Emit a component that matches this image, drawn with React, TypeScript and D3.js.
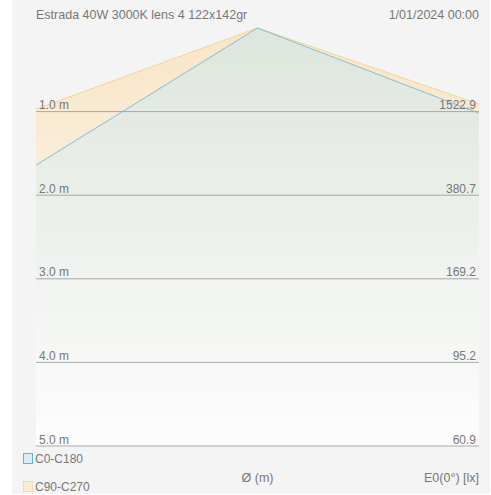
import React from 'react';
import * as d3 from 'd3';

const title = "Estrada 40W 3000K lens 4 122x142gr";
const dateLabel = "1/01/2024 00:00";
const depths = [1, 2, 3, 4, 5];
const depthLabels = ["1.0 m", "2.0 m", "3.0 m", "4.0 m", "5.0 m"];
const illuminance = ["1522.9", "380.7", "169.2", "95.2", "60.9"];
// beam edge: horizontal offset (m) vs depth below luminaire (m)
const c0Edge = [
  { x: -2.65, d: 1.64 },
  { x: 0, d: 0 },
  { x: 2.65, d: 1.02 },
];
const c90Edge = [
  { x: -2.65, d: 0.97 },
  { x: 0, d: 0 },
  { x: 2.65, d: 0.91 },
];
const seriesNames = ["C0-C180", "C90-C270"];

const W = 491, H = 495;
const font = "'Liberation Sans', Arial, sans-serif";

export default function App() {
  const x = d3.scaleLinear().domain([-2.65, 2.65]).range([36, 479]);
  const y = d3.scaleLinear().domain([0, 5]).range([28, 446]);

  const area = d3.area<{ x: number; d: number }>()
    .x(p => x(p.x))
    .y0(y(5))
    .y1(p => y(p.d));
  const line = d3.line<{ x: number; d: number }>()
    .x(p => x(p.x))
    .y(p => y(p.d));

  return (
    <div style={{ position: 'absolute', left: 0, top: 0 }}>
      <svg width={W} height={H} style={{ display: 'block', fontFamily: font }}>
        <defs>
          <linearGradient id="gOrange" gradientUnits="userSpaceOnUse" x1={0} y1={y(0)} x2={0} y2={y(5)}>
            <stop offset="0" stopColor="#fddcaa" />
            <stop offset="1" stopColor="#ffffff" />
          </linearGradient>
          <linearGradient id="gBlue" gradientUnits="userSpaceOnUse" x1={0} y1={y(0)} x2={0} y2={y(5)}>
            <stop offset="0" stopColor="#c2e5f1" />
            <stop offset="1" stopColor="#ffffff" />
          </linearGradient>
        </defs>
        <rect x={12} y={0} width={478} height={494} fill="#f4f4f4" />

        <path d={area(c90Edge) || ''} fill="url(#gOrange)" fillOpacity={0.6} />
        <path d={line(c90Edge) || ''} fill="none" stroke="#f5d595" strokeWidth={1} />
        <path d={area(c0Edge) || ''} fill="url(#gBlue)" fillOpacity={0.5} />
        <path d={line(c0Edge) || ''} fill="none" stroke="#7fc0d8" strokeWidth={1} />

        {depths.map((d, i) => (
          <g key={d}>
            <line x1={x(-2.65)} x2={x(2.65)} y1={y(d)} y2={y(d)} stroke="#a8a8a8" strokeWidth={1} />
            <text x={39} y={y(d) - 2.5} fontSize={12} fill="#777">{depthLabels[i]}</text>
            <text x={476} y={y(d) - 2.5} fontSize={12} fill="#777" textAnchor="end">{illuminance[i]}</text>
          </g>
        ))}

        <text x={36} y={19} fontSize={12.5} fill="#777">{title}</text>
        <text x={479} y={19} fontSize={12.5} fill="#777" textAnchor="end">{dateLabel}</text>

        <rect x={23.5} y={453.5} width={9} height={10} fill="#d8eef7" stroke="#5db5dc" strokeWidth={1} />
        <text x={35} y={463} fontSize={12} fill="#777">{seriesNames[0]}</text>
        <rect x={23.5} y={481.5} width={9} height={10} fill="#fbeccd" stroke="#f3cf8e" strokeWidth={1} strokeDasharray="2,1" />
        <text x={35} y={491} fontSize={12} fill="#777">{seriesNames[1]}</text>

        <text x={x(0)} y={482} fontSize={12.5} fill="#777" textAnchor="middle">Ø (m)</text>
        <text x={479} y={482} fontSize={12.5} fill="#777" textAnchor="end">E0(0°) [lx]</text>
      </svg>
    </div>
  );
}
